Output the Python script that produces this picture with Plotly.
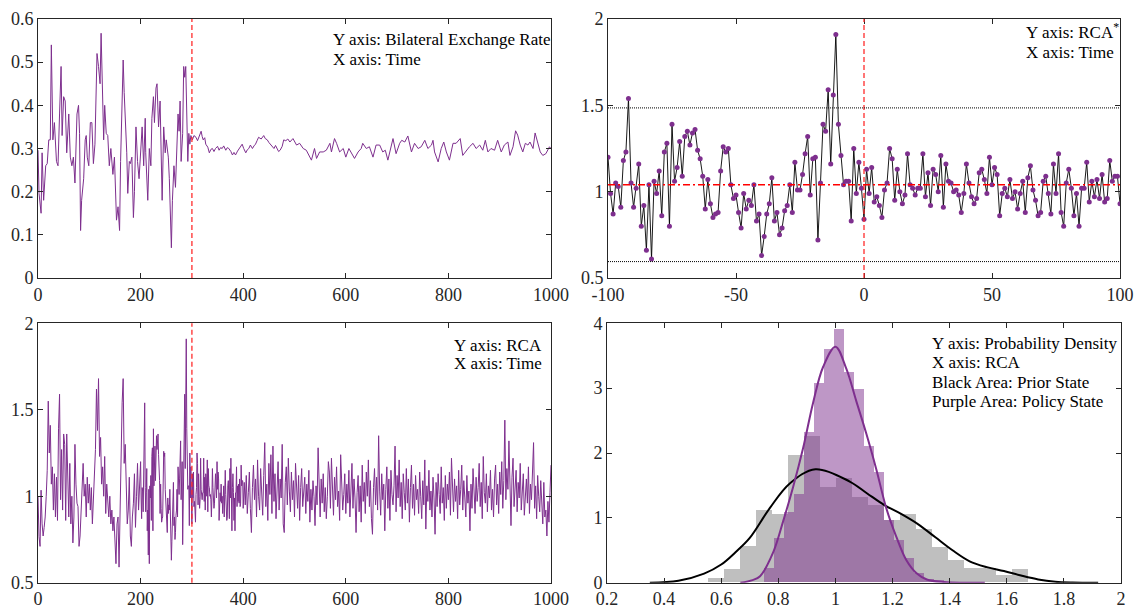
import numpy as np
import plotly.graph_objects as go

W, H = 1135, 607
PURPLE = "#7E2F8E"
AXIS_COLOR = "#262626"
FONT = "Liberation Serif"

# ---------------- data ----------------
# (time, bilateral exchange rate)
exchange_rate = [
    (0,0.296),(2,0.196),(6,0.15),(8,0.29),(11,0.18),(15,0.26),(18,0.265),(21,0.32),(24,0.32),(26,0.54),
    (29,0.32),(32,0.36),(36,0.27),(39,0.26),(42,0.38),(45,0.49),(47,0.33),(50,0.42),(53,0.41),(56,0.29),
    (60,0.38),(63,0.28),(66,0.26),(69,0.28),(72,0.22),(76,0.38),(79,0.40),(81,0.335),(83,0.11),(85,0.18),
    (89,0.23),(92,0.32),(94,0.33),(96,0.28),(99,0.26),(102,0.36),(105,0.36),(108,0.265),(111,0.31),(115,0.52),
    (118,0.49),(121,0.45),(123,0.567),(126,0.44),(128,0.32),(130,0.40),(133,0.335),(136,0.33),(139,0.26),(142,0.30),
    (146,0.24),(149,0.28),(152,0.196),(153,0.134),(156,0.165),(159,0.11),(161,0.27),(164,0.46),(166,0.505),(168,0.43),
    (170,0.38),(173,0.29),(175,0.196),(178,0.27),(180,0.265),(183,0.28),(186,0.14),(188,0.2),(191,0.35),(194,0.27),
    (197,0.23),(201,0.335),(203,0.35),(206,0.26),(209,0.37),(210,0.29),(214,0.18),(217,0.30),(220,0.26),(222,0.37),
    (225,0.42),(227,0.36),(230,0.44),(232,0.45),(235,0.35),(238,0.41),(240,0.31),(242,0.18),(245,0.35),(248,0.29),
    (250,0.32),(254,0.28),(256,0.23),(259,0.10),(260,0.07),(262,0.18),(265,0.26),(268,0.21),(270,0.29),(273,0.38),
    (275,0.34),(277,0.41),(279,0.27),(282,0.335),(284,0.49),(286,0.465),(288,0.49),(290,0.39),(292,0.27),(294,0.335),
    (296,0.31),(298,0.33),
    (301,0.32),(304,0.33),(308,0.326),(311,0.318),(314,0.33),(318,0.34),(320,0.328),(322,0.32),(325,0.325),(327,0.31),
    (331,0.303),(334,0.29),(337,0.298),(340,0.30),(343,0.293),(346,0.30),(350,0.305),(353,0.296),(356,0.302),(359,0.30),
    (362,0.306),(366,0.296),(369,0.302),(372,0.30),(376,0.293),(379,0.285),(382,0.291),(385,0.285),(389,0.294),(392,0.30),
    (395,0.306),(398,0.31),(401,0.30),(405,0.29),(408,0.297),(411,0.30),(414,0.308),(418,0.30),(421,0.306),(424,0.31),
    (427,0.318),(430,0.326),(435,0.322),(440,0.33),(443,0.323),(447,0.32),(450,0.314),(453,0.31),(457,0.304),(460,0.30),
    (463,0.307),(466,0.30),(469,0.293),(472,0.296),(476,0.305),(479,0.32),(483,0.318),(487,0.322),
    (491,0.315),(497,0.323),(504,0.308),(510,0.312),(517,0.30),(523,0.296),(530,0.28),(533,0.273),(539,0.30),(543,0.277),
    (549,0.292),(556,0.292),(562,0.296),(569,0.312),(572,0.292),(578,0.323),(582,0.312),(588,0.292),(595,0.30),(600,0.28),
    (606,0.30),(611,0.288),(617,0.277),(624,0.292),(630,0.30),(633,0.312),(640,0.30),(646,0.304),(653,0.28),(659,0.308),
    (666,0.308),(672,0.292),(677,0.296),(682,0.273),(689,0.304),(692,0.323),(698,0.288),(705,0.312),(709,0.319),(715,0.315),
    (721,0.329),(728,0.292),(734,0.312),(741,0.30),(747,0.304),(754,0.319),(760,0.30),(767,0.308),(770,0.319),(773,0.292),
    (780,0.269),(786,0.30),(791,0.315),(796,0.292),(802,0.273),(809,0.312),(815,0.312),(823,0.323),(828,0.284),(835,0.296),
    (841,0.304),(848,0.312),(854,0.30),(861,0.308),(867,0.296),(872,0.319),(877,0.292),(883,0.30),(890,0.296),(896,0.319),
    (903,0.292),(909,0.308),(916,0.315),(920,0.284),(926,0.304),(931,0.341),(935,0.331),(940,0.308),(945,0.292),(950,0.312),
    (955,0.308),(959,0.315),(965,0.30),(969,0.336),(974,0.312),(979,0.292),(984,0.284),(990,0.288),(997,0.304),(1000,0.30),
]
exr_time = [p[0] for p in exchange_rate]
exr_value = [p[1] for p in exchange_rate]

policy_time = 300

# RCA around the policy date, offsets -100..100 (top-right panel)
window_offset = list(range(-100, 101))
window_ticks = [-100, -50, 0, 50, 100]
window_tick_text = ["-100", "-50", "0", "50", "100"]
rca_window = [
    1.20,0.99,0.87,1.05,1.03,0.91,1.18,1.23,1.54,1.05,
    0.91,1.02,1.16,0.80,0.92,0.66,1.04,0.61,1.06,0.99,
    1.12,0.86,1.23,1.28,0.80,1.39,1.06,1.14,1.29,1.09,
    1.32,1.35,1.27,1.34,1.36,1.24,1.19,1.09,0.90,1.07,
    0.93,0.85,0.87,0.88,1.12,1.26,1.23,1.25,1.04,0.96,
    0.98,0.88,0.79,0.99,0.90,0.95,0.92,1.04,0.83,0.87,
    0.63,0.74,0.87,0.93,1.08,0.83,0.88,0.75,0.79,0.89,
    0.92,1.04,0.88,1.17,1.01,1.01,1.10,1.22,1.32,0.98,
    1.19,1.20,0.72,1.05,1.39,1.35,1.59,1.16,1.56,1.91,
    1.39,1.21,1.04,1.06,1.06,0.83,1.25,0.99,1.17,1.02,
    0.84,
    1.13,0.99,1.14,0.94,0.97,0.92,0.85,1.01,1.05,1.25,
    1.19,0.95,1.13,1.00,0.93,0.98,1.22,1.04,1.02,0.98,
    1.02,1.02,1.22,0.97,1.11,0.92,1.13,1.10,1.00,1.21,
    0.91,1.16,1.06,1.05,1.00,1.01,0.98,0.88,0.99,1.16,
    1.05,0.97,0.93,0.96,1.11,1.13,1.07,0.99,1.20,1.04,
    1.14,1.10,0.86,0.99,1.02,0.97,1.07,0.96,1.00,0.90,
    0.99,1.06,0.88,1.08,1.15,1.01,0.95,0.86,0.88,1.06,
    1.09,0.99,0.87,1.16,0.99,1.22,0.88,0.80,1.05,1.13,
    1.02,0.86,0.99,0.80,1.02,1.02,1.17,0.94,1.06,0.97,
    1.07,0.96,1.10,0.94,0.96,1.18,1.06,1.09,1.09,0.93,
]
rca_mean = 1.04
rca_upper = 1.485
rca_lower = 0.595

# RCA full series: t = 0,2,...,198
rca_early = [
    0.997,0.766,0.71,1.035,0.84,0.77,0.82,0.88,1.0,1.15,
    1.55,1.25,1.41,1.07,1.17,0.92,1.13,0.88,1.11,0.86,
    1.39,1.59,0.98,1.27,0.92,1.36,1.3,0.86,1.36,1.11,
    0.88,1.19,0.84,1.0,0.73,0.88,1.3,1.07,0.96,0.94,
    0.71,0.77,0.94,1.0,1.19,1.0,1.07,0.88,1.11,0.96,
    1.07,0.92,1.05,0.84,1.0,1.07,1.27,1.62,1.38,1.68,
    1.23,1.34,1.07,1.17,1.0,1.23,0.9,1.07,0.96,0.88,
    1.0,0.84,0.92,0.8,0.88,0.73,0.61,0.84,0.88,0.59,
    1.0,1.29,1.54,1.68,1.19,1.3,1.07,0.84,0.92,1.11,
    0.77,0.71,0.88,0.96,1.13,0.82,1.0,1.19,0.92,1.07,
]
# RCA full series: t = 402,404,...,1000
rca_late = [
    1.08,0.95,1.12,0.90,1.02,1.14,0.93,0.79,1.05,1.18,
    0.98,1.10,0.88,1.21,1.00,0.92,1.16,1.03,0.89,1.12,
    1.31,0.94,1.07,0.86,1.19,1.01,1.24,0.90,1.29,0.97,
    1.13,0.87,1.06,1.20,0.92,1.10,0.99,1.30,0.84,0.79,
    1.08,1.17,0.95,1.22,1.03,0.91,1.14,0.98,1.09,0.88,
    1.19,1.02,0.93,1.12,0.86,1.05,1.16,0.94,1.01,1.11,
    0.90,1.07,0.97,1.15,0.85,1.04,0.92,1.09,1.00,0.83,
    1.06,0.95,1.28,1.02,0.88,1.10,0.96,1.13,0.91,1.05,
    0.87,1.00,1.20,1.14,0.93,1.22,1.06,0.89,1.11,0.98,
    1.17,0.94,1.03,0.86,1.24,1.08,0.92,1.01,1.13,0.90,
    1.07,0.96,1.15,0.88,1.04,1.19,0.93,1.10,0.99,0.79,
    1.02,1.12,0.91,1.06,0.85,1.18,0.97,1.08,0.90,1.14,
    1.00,1.21,0.94,1.09,0.87,0.78,1.05,1.16,0.95,1.11,
    0.92,1.35,1.03,0.89,1.13,0.98,1.07,0.80,1.04,1.17,
    0.93,1.10,0.86,1.15,1.01,0.95,1.06,1.29,0.91,1.12,
    0.99,1.21,0.94,1.08,0.87,1.13,1.02,0.92,1.16,0.96,
    1.10,0.85,1.05,1.18,0.93,1.07,0.89,1.12,0.98,1.04,
    0.90,1.14,1.00,0.87,1.09,0.95,1.21,0.81,1.06,0.97,
    1.15,0.92,1.03,0.88,1.11,0.99,0.78,1.08,0.94,1.13,
    1.01,0.90,1.17,0.96,1.05,0.86,1.12,0.93,1.07,0.98,
    1.14,0.89,1.22,1.02,0.91,1.10,0.97,1.06,0.87,1.15,
    0.95,1.04,1.18,0.92,1.09,0.99,0.88,1.12,0.96,1.03,
    0.80,1.07,0.93,1.16,1.00,0.90,1.11,0.97,1.05,1.19,
    0.94,1.08,0.87,1.23,1.02,0.96,1.13,0.91,1.06,0.99,
    1.15,0.92,1.04,0.88,1.10,1.18,0.95,1.07,0.90,1.14,
    1.01,1.20,0.93,1.09,1.44,0.98,1.16,1.04,1.32,0.97,
    0.83,1.11,1.22,0.94,1.06,1.15,0.91,1.08,0.99,1.19,
    0.92,1.05,1.13,0.89,1.02,1.10,0.96,1.17,0.90,1.07,
    0.98,1.14,1.31,0.93,1.06,0.87,1.12,1.00,0.91,1.09,
    0.95,0.84,1.08,0.88,0.92,0.77,0.97,0.85,1.02,1.18,
]
rca_time = list(range(0, 200, 2)) + [policy_time + o for o in window_offset] + list(range(402, 1001, 2))
rca_value = rca_early + rca_window + rca_late

# Histograms (probability density)
prior_bin_start, prior_bin_width = 0.552, 0.0561
prior_density = [0.067,0.2,0.56,1.12,1.05,1.96,2.25,1.47,1.61,1.32,1.2,0.97,1.05,0.83,0.55,0.35,0.22,0.22,0.12,0.2]
policy_bin_start, policy_bin_width = 0.749, 0.035
policy_density = [0.22,0.68,1.08,1.37,2.32,3.07,3.6,3.9,3.25,2.98,2.1,1.7,0.97,0.66,0.38,0.15,0.06,0.03]

prior_kde_x = [0.35,0.45,0.54,0.60,0.65,0.70,0.77,0.84,0.93,1.05,1.11,1.17,1.23,1.29,1.35,1.41,1.47,1.53,1.59,1.65,1.71,1.77,1.83,1.92]
prior_kde_y = [0.0,0.03,0.14,0.28,0.47,0.69,1.15,1.53,1.75,1.56,1.38,1.20,1.06,0.90,0.70,0.50,0.33,0.24,0.18,0.11,0.05,0.015,0.003,0.0]
policy_kde_x = [0.667,0.71,0.736,0.783,0.817,0.852,0.887,0.922,0.957,1.0,1.038,1.073,1.108,1.143,1.178,1.213,1.248,1.283,1.32,1.38,1.45,1.523]
policy_kde_y = [0.0,0.04,0.10,0.48,0.95,1.48,2.08,2.78,3.33,3.64,3.30,2.80,2.30,1.75,1.15,0.71,0.35,0.15,0.05,0.01,0.0,0.0]

# ---------------- figure ----------------
def px_x(p):
    return p / W

def px_y(p):
    return 1 - p / H

fig = go.Figure()

fig.add_trace(go.Scatter(x=exr_time, y=exr_value, mode="lines",
                         line=dict(color=PURPLE, width=1), xaxis="x", yaxis="y", showlegend=False))

fig.add_trace(go.Scatter(x=window_offset, y=rca_window, mode="lines+markers",
                         line=dict(color="black", width=0.9),
                         marker=dict(color=PURPLE, size=5, line=dict(width=0)),
                         xaxis="x2", yaxis="y2", showlegend=False))

fig.add_trace(go.Scatter(x=rca_time, y=rca_value, mode="lines",
                         line=dict(color=PURPLE, width=1), xaxis="x3", yaxis="y3", showlegend=False))

prior_centers = prior_bin_start + (np.arange(len(prior_density)) + 0.5) * prior_bin_width
policy_centers = policy_bin_start + (np.arange(len(policy_density)) + 0.5) * policy_bin_width
fig.add_trace(go.Bar(x=prior_centers, y=prior_density, width=prior_bin_width,
                     marker=dict(color="rgba(0,0,0,0.25)", line=dict(width=0)),
                     xaxis="x4", yaxis="y4", showlegend=False))
fig.add_trace(go.Bar(x=policy_centers, y=policy_density, width=policy_bin_width,
                     marker=dict(color="rgba(126,47,142,0.5)", line=dict(width=0)),
                     xaxis="x4", yaxis="y4", showlegend=False))
fig.add_trace(go.Scatter(x=prior_kde_x, y=prior_kde_y, mode="lines", line=dict(color="black", width=2, shape="spline"),
                         xaxis="x4", yaxis="y4", showlegend=False))
fig.add_trace(go.Scatter(x=policy_kde_x, y=policy_kde_y, mode="lines", line=dict(color=PURPLE, width=2, shape="spline"),
                         xaxis="x4", yaxis="y4", showlegend=False))

axis_common = dict(showgrid=False, zeroline=False, showline=True, linecolor=AXIS_COLOR, linewidth=1,
                   mirror="allticks", ticks="inside", ticklen=5, tickcolor=AXIS_COLOR, tickwidth=1,
                   automargin=False,
                   tickfont=dict(family=FONT, size=18, color=AXIS_COLOR))

left_x = [px_x(38), px_x(551)]
tr_x = [px_x(608), px_x(1120)]
br_x = [px_x(607), px_x(1121)]
top_y = [px_y(278), px_y(19)]
bot_y = [px_y(582.7), px_y(323.3)]

fig.update_layout(
    width=W, height=H, margin=dict(l=0, r=0, t=0, b=0, autoexpand=False),
    paper_bgcolor="white", plot_bgcolor="white", barmode="overlay", bargap=0,
    xaxis=dict(domain=left_x, range=[0, 1000], dtick=200, anchor="y", **axis_common),
    yaxis=dict(domain=top_y, range=[0, 0.6], dtick=0.1, anchor="x", **axis_common),
    xaxis2=dict(domain=tr_x, range=[-100, 100], tickmode="array", tickvals=window_ticks,
                ticktext=window_tick_text, anchor="y2", **axis_common),
    yaxis2=dict(domain=top_y, range=[0.5, 2], dtick=0.5, anchor="x2", **axis_common),
    xaxis3=dict(domain=left_x, range=[0, 1000], dtick=200, anchor="y3", **axis_common),
    yaxis3=dict(domain=bot_y, range=[0.5, 2], dtick=0.5, anchor="x3", **axis_common),
    xaxis4=dict(domain=br_x, range=[0.2, 2], dtick=0.2, anchor="y4", **axis_common),
    yaxis4=dict(domain=bot_y, range=[0, 4], dtick=1, anchor="x4", **axis_common),
)

red = "rgba(255,40,40,0.85)"
shapes = [
    dict(type="line", xref="x", yref="y domain", x0=policy_time, x1=policy_time, y0=0, y1=1,
         line=dict(color=red, width=1.5, dash="5px,3px")),
    dict(type="line", xref="x3", yref="y3 domain", x0=policy_time, x1=policy_time, y0=0, y1=1,
         line=dict(color=red, width=1.5, dash="5px,3px")),
    dict(type="line", xref="x2", yref="y2 domain", x0=0, x1=0, y0=0, y1=1,
         line=dict(color=red, width=1.5, dash="5px,3px")),
    dict(type="line", xref="x2 domain", yref="y2", x0=0, x1=1, y0=rca_mean, y1=rca_mean,
         line=dict(color="red", width=1.5, dash="7px,3px,2px,3px")),
    dict(type="line", xref="x2 domain", yref="y2", x0=0, x1=1, y0=rca_upper, y1=rca_upper,
         line=dict(color="black", width=1, dash="1px,1px")),
    dict(type="line", xref="x2 domain", yref="y2", x0=0, x1=1, y0=rca_lower, y1=rca_lower,
         line=dict(color="black", width=1, dash="1px,1px")),
]
fig.update_layout(shapes=shapes)

def label(text, x, y):
    return dict(text=text, xref="paper", yref="paper", x=px_x(x), y=px_y(y),
                xanchor="left", yanchor="middle", showarrow=False,
                font=dict(family=FONT, size=17, color="black"))

annotations = [
    label("Y axis: Bilateral Exchange Rate", 331, 40),
    label("X axis: Time", 331, 59.5),
    label("Y axis: RCA<sup>*</sup>", 1024, 31),
    label("X axis: Time", 1024, 52.5),
    label("Y axis: RCA", 452, 345),
    label("X axis: Time", 452, 363.5),
    label("Y axis: Probability Density", 930, 343.5),
    label("X axis: RCA", 930, 362.5),
    label("Black Area: Prior State", 930, 382),
    label("Purple Area: Policy State", 930, 401),
]
fig.update_layout(annotations=annotations)

fig.write_html("out.html", config={"displayModeBar": False},
               post_script="document.body.style.margin='0';")
